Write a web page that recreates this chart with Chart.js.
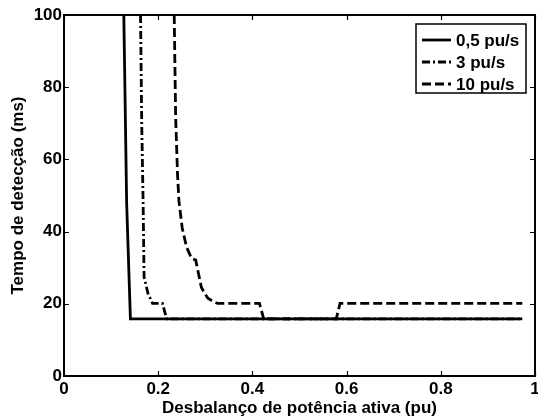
<!DOCTYPE html>
<html>
<head>
<meta charset="utf-8">
<script src="https://cdn.jsdelivr.net/npm/chart.js@4/dist/chart.umd.min.js"></script>
<style>
html,body{margin:0;padding:0;background:#fff;}
#wrap{width:538px;height:419px;position:relative;}
</style>
</head>
<body>
<div id="wrap"><canvas id="c" width="538" height="419"></canvas></div>
<script>
// ---- data ----
const seriesLabels = ['0,5 pu/s', '3 pu/s', '10 pu/s'];

const slowX = [0.127, 0.133, 0.141, 0.973];
const slowY = [100, 48, 15.8, 15.8];

const midX = [0.1625, 0.165, 0.168, 0.170, 0.178, 0.188, 0.209, 0.218, 0.973];
const midY = [100, 70, 48, 27.5, 23, 20.1, 20.1, 15.8, 15.8];

const fastX = [0.234, 0.237, 0.241, 0.244, 0.251, 0.260, 0.2706, 0.2797, 0.2917, 0.305, 0.316, 0.326, 0.415, 0.424, 0.578, 0.586, 0.973];
const fastY = [100, 72, 56, 48.5, 41, 35.8, 32.6, 32.1, 24.5, 21.6, 20.7, 20.1, 20.1, 15.8, 15.8, 20.1, 20.1];

const xTicks = [0, 0.2, 0.4, 0.6, 0.8, 1];
const yTicks = [0, 20, 40, 60, 80, 100];

const xTitle = 'Desbalanço de potência ativa (pu)';
const yTitle = 'Tempo de detecção (ms)';

function pts(xs, ys) { return xs.map((x, i) => ({x: x, y: ys[i]})); }

const FONT = 'Liberation Sans, Arial, Helvetica, sans-serif';
const FS = 17;
const LW = 2.8;
const styles = [
  {borderDash: []},
  {borderDash: [8, 3, 2, 3]},
  {borderDash: [9, 4]}
];

const datasets = [
  {label: seriesLabels[0], data: pts(slowX, slowY)},
  {label: seriesLabels[1], data: pts(midX, midY)},
  {label: seriesLabels[2], data: pts(fastX, fastY)}
].map((d, i) => Object.assign(d, {
  borderColor: '#000', backgroundColor: '#000', borderWidth: LW,
  borderDash: styles[i].borderDash, pointRadius: 0, fill: false,
  tension: 0, borderCapStyle: 'butt', borderJoinStyle: 'miter', order: 2 - i
}));

const framePlugin = {
  id: 'frame',
  afterDatasetsDraw(chart) {
    const ctx = chart.ctx, a = chart.chartArea;
    const xs = chart.scales.x, ys = chart.scales.y;
    ctx.save();
    ctx.strokeStyle = '#000';
    ctx.lineWidth = 2;
    ctx.setLineDash([]);
    ctx.strokeRect(a.left, a.top, a.right - a.left, a.bottom - a.top);
    ctx.lineWidth = 1.2;
    const tl = 5;
    ctx.beginPath();
    xTicks.forEach(v => {
      const px = Math.round(xs.getPixelForValue(v)) + 0.5;
      ctx.moveTo(px, a.bottom); ctx.lineTo(px, a.bottom - tl);
      ctx.moveTo(px, a.top); ctx.lineTo(px, a.top + tl);
    });
    yTicks.forEach(v => {
      const py = Math.round(ys.getPixelForValue(v)) + 0.5;
      ctx.moveTo(a.left, py); ctx.lineTo(a.left + tl, py);
      ctx.moveTo(a.right, py); ctx.lineTo(a.right - tl, py);
    });
    ctx.stroke();

    // legend box
    const bx = 416, by = 24, bw = 110, bh = 69;
    ctx.fillStyle = '#fff';
    ctx.fillRect(bx, by, bw, bh);
    ctx.lineWidth = 1.5;
    ctx.strokeRect(bx, by, bw, bh);
    const rows = [40, 62, 84];
    ctx.font = 'bold ' + FS + 'px ' + FONT;
    ctx.textBaseline = 'middle';
    ctx.textAlign = 'left';
    chart.data.datasets.forEach((ds, i) => {
      ctx.beginPath();
      ctx.lineWidth = LW;
      ctx.setLineDash(ds.borderDash);
      ctx.moveTo(422, rows[i]); ctx.lineTo(451, rows[i]);
      ctx.stroke();
      ctx.setLineDash([]);
      ctx.fillStyle = '#000';
      ctx.fillText(ds.label, 456, rows[i] + 1);
    });
    ctx.restore();
  }
};

new Chart(document.getElementById('c'), {
  type: 'line',
  data: {datasets: datasets},
  plugins: [framePlugin],
  options: {
    responsive: false,
    animation: false,
    devicePixelRatio: 1,
    layout: {padding: {left: 0, top: 15, right: 3, bottom: 0}},
    plugins: {legend: {display: false}, tooltip: {enabled: false}},
    scales: {
      x: {
        type: 'linear', min: 0, max: 1,
        afterFit: s => { s.height = 43; s.paddingRight = 0; s.paddingLeft = 0; },
        afterBuildTicks: s => { s.ticks = xTicks.map(v => ({value: v})); },
        grid: {display: false, drawTicks: false},
        border: {display: false},
        ticks: {
          color: '#000', padding: 5, maxRotation: 0, autoSkip: false,
          font: {family: FONT, size: FS, weight: 'bold', lineHeight: 1},
          callback: v => String(v)
        },
        title: {
          display: true, text: xTitle, color: '#000',
          font: {family: FONT, size: FS, weight: 'bold', lineHeight: 1},
          padding: {top: 0, bottom: 2}
        }
      },
      y: {
        type: 'linear', min: 0, max: 100,
        afterFit: s => { s.width = 64; s.paddingTop = 0; s.paddingBottom = 0; },
        afterBuildTicks: s => { s.ticks = yTicks.map(v => ({value: v})); },
        grid: {display: false, drawTicks: false},
        border: {display: false},
        ticks: {
          color: '#000', padding: 2, autoSkip: false,
          font: {family: FONT, size: FS, weight: 'bold', lineHeight: 1},
          callback: v => String(v)
        },
        title: {
          display: true, text: yTitle, color: '#000',
          font: {family: FONT, size: FS, weight: 'bold', lineHeight: 1},
          padding: {top: 10, bottom: 0}
        }
      }
    }
  }
});
</script>
</body>
</html>
